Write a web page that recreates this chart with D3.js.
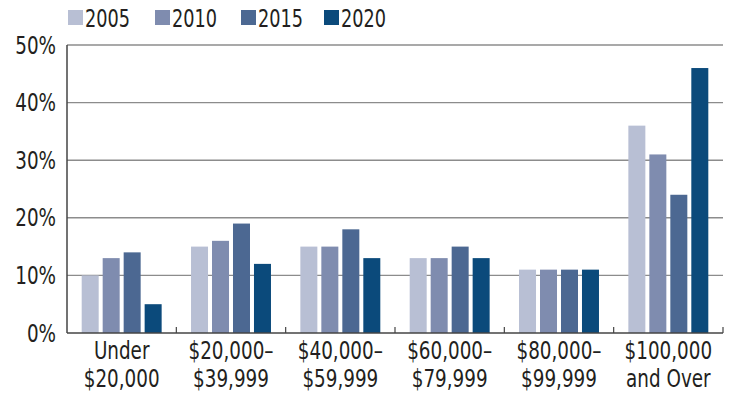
<!DOCTYPE html>
<html>
<head>
<meta charset="utf-8">
<script src="https://cdn.jsdelivr.net/npm/d3@7"></script>
<style>
  html, body { margin: 0; padding: 0; background: #fff; }
  svg { display: block; }
  text { font-family: "DejaVu Sans Condensed", "Liberation Sans Narrow", "Roboto", sans-serif; fill: #231f20; }
</style>
</head>
<body>
<svg id="chart" width="731" height="396"></svg>
<script>
// Household income distribution by year
const categories = [["Under", "$20,000"], ["$20,000–", "$39,999"], ["$40,000–", "$59,999"],
                    ["$60,000–", "$79,999"], ["$80,000–", "$99,999"], ["$100,000", "and Over"]];
const years = ["2005", "2010", "2015", "2020"];
const v2005 = [10, 15, 15, 13, 11, 36];
const v2010 = [13, 16, 15, 13, 11, 31];
const v2015 = [14, 19, 18, 15, 11, 24];
const v2020 = [5, 12, 13, 13, 11, 46];
const yTicks = [0, 10, 20, 30, 40, 50];
const colors = ["#b8bfd4", "#7f8caf", "#4c6892", "#0b4a7b"];

const seriesValues = [v2005, v2010, v2015, v2020];
const svg = d3.select("#chart");
const margin = { left: 67, right: 8, top: 45, bottom: 63 };
const W = 731, H = 396;
const narrow = 0.85; // horizontal squeeze for a condensed look

const x0 = d3.scaleBand().domain(d3.range(categories.length))
  .range([margin.left, W - margin.right]).paddingInner(0).paddingOuter(0);
const x1 = d3.scaleBand().domain(d3.range(years.length))
  .range([0, x0.bandwidth()]).paddingInner(0.19).paddingOuter(0.7);
const y = d3.scaleLinear().domain([0, 50]).range([H - margin.bottom, margin.top]);

// gridlines
svg.append("g").selectAll("line").data(yTicks.filter(t => t > 0)).join("line")
  .attr("x1", margin.left).attr("x2", W - margin.right)
  .attr("y1", d => y(d)).attr("y2", d => y(d))
  .attr("stroke", "#8c8c8c").attr("stroke-width", 1.4);

// y labels
svg.append("g").selectAll("text").data(yTicks).join("text")
  .attr("transform", d => `translate(56,${y(d)}) scale(${narrow},1)`)
  .attr("dy", "0.36em")
  .attr("text-anchor", "end").attr("font-size", 24)
  .text(d => d + "%");

// bars
const groups = svg.append("g").selectAll("g").data(categories).join("g")
  .attr("transform", (d, i) => `translate(${x0(i)},0)`);
groups.selectAll("rect").data((d, i) => seriesValues.map((s, k) => ({ k, v: s[i] }))).join("rect")
  .attr("x", d => x1(d.k)).attr("width", x1.bandwidth())
  .attr("y", d => y(d.v)).attr("height", d => y(0) - y(d.v))
  .attr("fill", d => colors[d.k]);

// axes lines
svg.append("line").attr("x1", margin.left).attr("x2", margin.left)
  .attr("y1", y(50)).attr("y2", y(0)).attr("stroke", "#444").attr("stroke-width", 1.5);
svg.append("line").attr("x1", margin.left).attr("x2", W - margin.right)
  .attr("y1", y(0)).attr("y2", y(0)).attr("stroke", "#444").attr("stroke-width", 1.5);
// category separator ticks
svg.append("g").selectAll("line").data(d3.range(1, categories.length + 1)).join("line")
  .attr("x1", d => margin.left + d * x0.bandwidth()).attr("x2", d => margin.left + d * x0.bandwidth())
  .attr("y1", y(0)).attr("y2", y(0) - 6).attr("stroke", "#444").attr("stroke-width", 1.2);

// category labels, two lines each
const labelRows = categories.flatMap((c, i) => c.map((t, j) => ({ i, j, t })));
svg.append("g").selectAll("text").data(labelRows).join("text")
  .attr("transform", d => `translate(${x0(d.i) + x0.bandwidth() / 2},${359 + d.j * 28}) scale(${narrow},1)`)
  .attr("text-anchor", "middle").attr("font-size", 24)
  .text(d => d.t);

// legend
const legX = [68, 155, 241, 324];
const leg = svg.append("g").selectAll("g").data(years).join("g")
  .attr("transform", (d, i) => `translate(${legX[i]},10)`);
leg.append("rect").attr("width", 15).attr("height", 15).attr("fill", (d, i) => colors[i]);
leg.append("text").attr("transform", `translate(17,16.5) scale(0.82,1)`)
  .attr("font-size", 24).text(d => d);
</script>
</body>
</html>
